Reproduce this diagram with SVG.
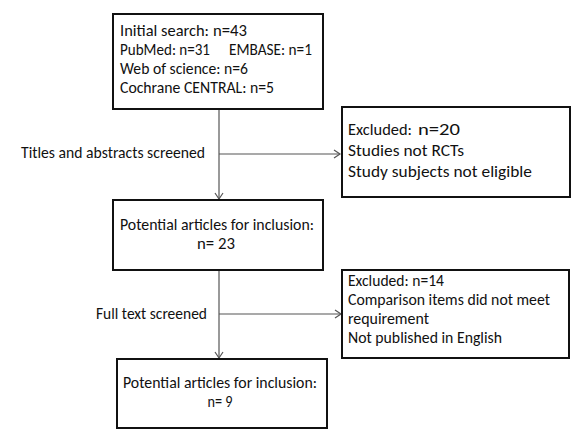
<svg xmlns="http://www.w3.org/2000/svg" width="583" height="436" viewBox="0 0 583 436">
<style>
.box{fill:#fff;stroke:#111;stroke-width:2}
.t{font-family:Carlito,"Liberation Sans",sans-serif;font-size:15.5px;fill:#111}
.tl{font-family:Carlito,"Liberation Sans",sans-serif;font-size:17px;fill:#111}
.c{stroke:#555;stroke-width:1.2;fill:none}
</style>
<defs>
<marker id="ah" markerWidth="10" markerHeight="10" refX="8" refY="5" orient="auto" markerUnits="userSpaceOnUse">
<path d="M2,1 L8,5 L2,9" fill="none" stroke="#555" stroke-width="1.2"/>
</marker>
</defs>
<rect width="583" height="436" fill="#fff"/>
<g id="connectors">
<line class="c" x1="219" y1="109" x2="219" y2="199" marker-end="url(#ah)"/>
<line class="c" x1="219" y1="154" x2="340" y2="154" marker-end="url(#ah)"/>
<line class="c" x1="219" y1="270" x2="219" y2="358" marker-end="url(#ah)"/>
<line class="c" x1="219" y1="314" x2="341" y2="314" marker-end="url(#ah)"/>
</g>
<g id="initial">
<rect class="box" x="113" y="14" width="210" height="95"/>
<text class="t" y="36"><tspan x="120" textLength="89" lengthAdjust="spacingAndGlyphs">Initial search:</tspan><tspan x="213" textLength="34" lengthAdjust="spacingAndGlyphs">n=43</tspan></text>
<text class="t" y="55"><tspan x="120" textLength="90" lengthAdjust="spacingAndGlyphs">PubMed: n=31</tspan><tspan x="229" textLength="83" lengthAdjust="spacingAndGlyphs">EMBASE: n=1</tspan></text>
<text class="t" x="120" y="74" textLength="128" lengthAdjust="spacingAndGlyphs">Web of science: n=6</text>
<text class="t" x="120" y="93" textLength="154" lengthAdjust="spacingAndGlyphs">Cochrane CENTRAL: n=5</text>
</g>
<g id="label1">
<text class="t" x="21" y="158" textLength="184" lengthAdjust="spacingAndGlyphs">Titles and abstracts screened</text>
</g>
<g id="excluded20">
<rect class="box" x="342" y="107" width="228" height="90"/>
<text class="tl" y="135"><tspan x="348" textLength="64" lengthAdjust="spacingAndGlyphs">Excluded:</tspan><tspan x="418" textLength="42" lengthAdjust="spacingAndGlyphs">n=20</tspan></text>
<text class="tl" x="348" y="156" textLength="116" lengthAdjust="spacingAndGlyphs">Studies not RCTs</text>
<text class="tl" x="348" y="177" textLength="184" lengthAdjust="spacingAndGlyphs">Study subjects not eligible</text>
</g>
<g id="potential23">
<rect class="box" x="113" y="200" width="210" height="70"/>
<text class="t" x="217" y="230" text-anchor="middle" textLength="194" lengthAdjust="spacingAndGlyphs">Potential articles for inclusion:</text>
<text class="t" x="216" y="249" text-anchor="middle" textLength="38" lengthAdjust="spacingAndGlyphs">n= 23</text>
</g>
<g id="label2">
<text class="t" x="96" y="319" textLength="111" lengthAdjust="spacingAndGlyphs">Full text screened</text>
</g>
<g id="excluded14">
<rect class="box" x="342" y="270" width="227" height="88"/>
<text class="t" x="348" y="286" textLength="96" lengthAdjust="spacingAndGlyphs">Excluded: n=14</text>
<text class="t" x="348" y="305" textLength="202" lengthAdjust="spacingAndGlyphs">Comparison items did not meet</text>
<text class="t" x="348" y="324" textLength="81" lengthAdjust="spacingAndGlyphs">requirement</text>
<text class="t" x="348" y="343" textLength="154" lengthAdjust="spacingAndGlyphs">Not published in English</text>
</g>
<g id="potential9">
<rect class="box" x="117" y="359" width="210" height="69"/>
<text class="t" x="220" y="388" text-anchor="middle" textLength="194" lengthAdjust="spacingAndGlyphs">Potential articles for inclusion:</text>
<text class="t" x="220" y="407" text-anchor="middle" textLength="25" lengthAdjust="spacingAndGlyphs">n= 9</text>
</g>
</svg>
